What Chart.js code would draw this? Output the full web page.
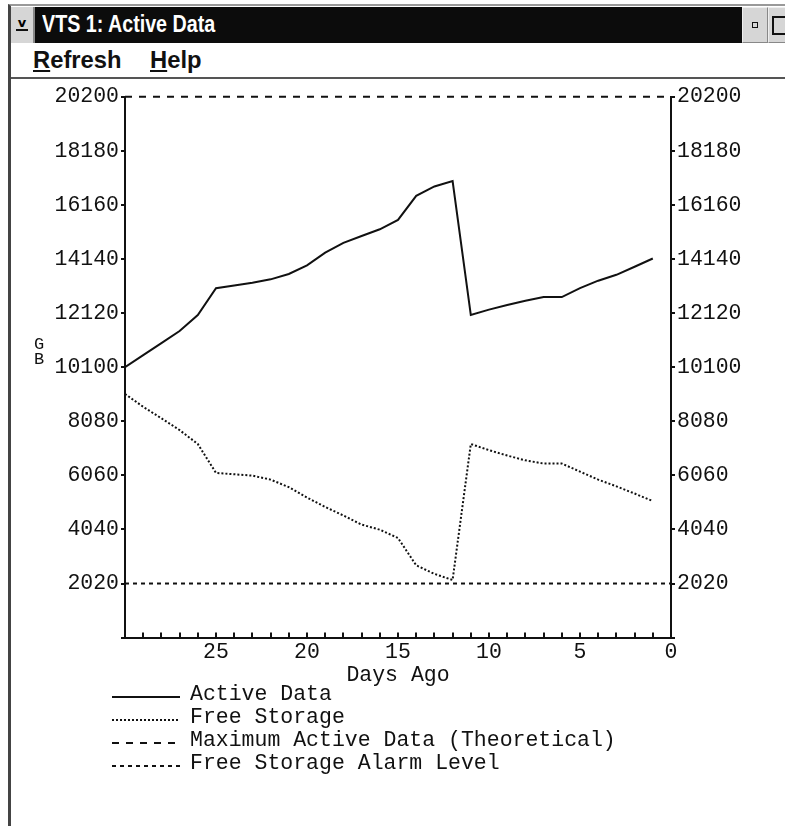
<!DOCTYPE html>
<html>
<head>
    <title>VTS 1: Active Data</title>
    <meta charset="utf-8" />
    <script src="https://cdn.jsdelivr.net/npm/chart.js"></script>
    <style>
        body { margin: 0; background: #fff; width: 785px; height: 826px; overflow: hidden; position: relative; }
        #frame { position: absolute; left: 8px; top: 4px; width: 790px; height: 830px; border-left: 3px solid #444; border-top: 2px solid #999; }
        #titlebar { position: absolute; left: 11px; top: 7px; width: 780px; height: 36px; background: #0c0c0c; }
        #sysbox { position: absolute; left: 0; top: 0; width: 22px; height: 36px; background: #d6d6d6; border-right: 2px solid #888; }
        #sysbox b { position: absolute; left: 5px; top: 12px; width: 12px; height: 10px; font: bold 13px "DejaVu Sans", sans-serif; line-height: 8px; text-align: center; border-bottom: 2px solid #111; }
        #caption { position: absolute; left: 31px; top: 3px; color: #fff; font: bold 24px "Liberation Sans", sans-serif; transform: scaleX(0.82); transform-origin: left; white-space: nowrap; }
        .btn { position: absolute; top: 0; height: 34px; background: #d6d6d6; border: 1px solid #eee; border-right-color: #888; border-bottom-color: #888; }
        #minbtn { left: 731px; width: 24px; }
        #maxbtn { left: 757px; width: 30px; }
        #minbtn i { position: absolute; left: 9px; top: 14px; width: 4px; height: 4px; border: 1px solid #111; }
        #maxbtn i { position: absolute; left: 3px; top: 8px; width: 13px; height: 15px; border: 2px solid #111; }
        #menubar { position: absolute; left: 11px; top: 43px; width: 780px; height: 34px; border-bottom: 2px solid #555; font: bold 24px "Liberation Sans", sans-serif; color: #111; }
        #menubar span { position: absolute; top: 3px; transform: scaleX(0.99); transform-origin: left; }
        #chartbox { position: absolute; left: 0; top: 84px; width: 785px; height: 606px; }
        #gb { position: absolute; left: 34px; top: 337px; font: 17px "Liberation Mono", monospace; line-height: 15px; color: #111; }
        #legend { position: absolute; left: 112px; top: 683px; font: 21.5px "Liberation Mono", monospace; color: #111; }
        #legend div { height: 23px; line-height: 23px; white-space: nowrap; }
        #legend svg { vertical-align: middle; margin-right: 10px; }
    </style>
</head>
<body>
    <div id="frame"></div>
    <div id="titlebar">
        <div id="sysbox"><b>v</b></div>
        <div id="caption">VTS 1: Active Data</div>
        <div class="btn" id="minbtn"><i></i></div>
        <div class="btn" id="maxbtn"><i></i></div>
    </div>
    <div id="menubar">
        <span style="left: 22px"><u>R</u>efresh</span>
        <span style="left: 139px"><u>H</u>elp</span>
    </div>
    <div id="chartbox"><canvas id="chart"></canvas></div>
    <div id="gb">G<br>B</div>
    <div id="legend"></div>

    <script>
        // days ago, oldest first
        const days = [30, 29, 28, 27, 26, 25, 24, 23, 22, 21, 20, 19, 18, 17, 16, 15,
                      14, 13, 12, 11, 10, 9, 8, 7, 6, 5, 4, 3, 2, 1];
        // GB
        const activeData = [10100, 10550, 11000, 11450, 12050, 13050, 13150, 13250, 13380, 13580,
                            13900, 14380, 14740, 15000, 15250, 15600, 16500, 16850, 17050, 12050,
                            12250, 12420, 12580, 12720, 12720, 13050, 13330, 13550, 13850, 14160];
        const freeStorage = [9100, 8620, 8190, 7750, 7230, 6150, 6100, 6050, 5900, 5620,
                             5230, 4880, 4560, 4220, 4030, 3720, 2700, 2380, 2150, 7230,
                             7000, 6800, 6620, 6500, 6500, 6200, 5900, 5650, 5380, 5100];
        const maxActiveData = 20200;
        const alarmLevel = 2020;
        const yStep = 2020;
        const xLabels = [25, 20, 15, 10, 5, 0];

        const monoFont = { family: 'Liberation Mono', size: 21.5, lineHeight: 1 };
        const tightFont = { family: 'Liberation Mono', size: 21.5, lineHeight: 0.8 };
        const ink = '#111';

        function points(values) {
            return days.map((d, i) => ({ x: d, y: values[i] }));
        }
        function flat(value) {
            return [{ x: days[0], y: value }, { x: 0, y: value }];
        }

        // little tick marks that point up into the plot, like the original
        const innerTicks = {
            id: 'innerTicks',
            afterDraw(chart) {
                const xs = chart.scales.x;
                const ctx = chart.ctx;
                const bottom = chart.chartArea.bottom;
                ctx.save();
                ctx.strokeStyle = ink;
                ctx.lineWidth = 2;
                ctx.beginPath();
                for (let d = 1; d < days[0]; d++) {
                    const px = Math.round(xs.getPixelForValue(d));
                    ctx.moveTo(px, bottom + 1);
                    ctx.lineTo(px, bottom - 5);
                }
                ctx.stroke();
                ctx.restore();
            }
        };

        const yAxis = (pos) => ({
            type: 'linear',
            position: pos,
            min: 0,
            max: maxActiveData,
            afterFit: (scale) => { scale.width = pos === 'left' ? 125 : 114; },
            ticks: {
                stepSize: yStep,
                color: ink,
                font: monoFont,
                padding: 2,
                callback: (v) => v === 0 ? '' : String(v)
            },
            grid: { drawOnChartArea: false, tickLength: 4, color: ink, lineWidth: 2 },
            border: { color: ink, width: 2 }
        });

        const chart = new Chart(document.getElementById('chart'), {
            type: 'line',
            data: {
                datasets: [
                    { label: 'Active Data', data: points(activeData), borderColor: ink, borderWidth: 2 },
                    { label: 'Free Storage', data: points(freeStorage), borderColor: ink, borderWidth: 2, borderDash: [2, 2] },
                    { label: 'Maximum Active Data (Theoretical)', data: flat(maxActiveData), borderColor: ink, borderWidth: 2, borderDash: [7, 7], clip: false },
                    { label: 'Free Storage Alarm Level', data: flat(alarmLevel), borderColor: ink, borderWidth: 2, borderDash: [4, 4] }
                ]
            },
            options: {
                responsive: true,
                maintainAspectRatio: false,
                animation: false,
                layout: { padding: { top: 7, left: 0, right: 0, bottom: 6 } },
                elements: { point: { radius: 0 }, line: { tension: 0, fill: false } },
                plugins: { legend: { display: false }, tooltip: { enabled: false } },
                scales: {
                    x: {
                        type: 'linear',
                        min: 0,
                        max: days[0],
                        reverse: true,
                        ticks: {
                            stepSize: 1,
                            autoSkip: false,
                            maxRotation: 0,
                            color: ink,
                            font: tightFont,
                            padding: 6,
                            callback: (v) => xLabels.includes(v) ? String(v) : ''
                        },
                        grid: { drawOnChartArea: false, drawTicks: false },
                        border: { color: ink, width: 2 },
                        title: { display: true, text: 'Days Ago', color: ink, font: tightFont, padding: { top: 0, bottom: 0 } }
                    },
                    y: yAxis('left'),
                    y2: yAxis('right')
                }
            },
            plugins: [innerTicks]
        });

        // legend below the plot, one entry per line
        const legendBox = document.getElementById('legend');
        chart.data.datasets.forEach(ds => {
            const row = document.createElement('div');
            const dash = (ds.borderDash || []).join(' ');
            row.innerHTML = '<svg width="68" height="10"><line x1="0" y1="8" x2="68" y2="8" stroke="' + ink +
                '" stroke-width="2" stroke-dasharray="' + dash + '"/></svg>' + ds.label;
            legendBox.appendChild(row);
        });
    </script>
</body>
</html>
